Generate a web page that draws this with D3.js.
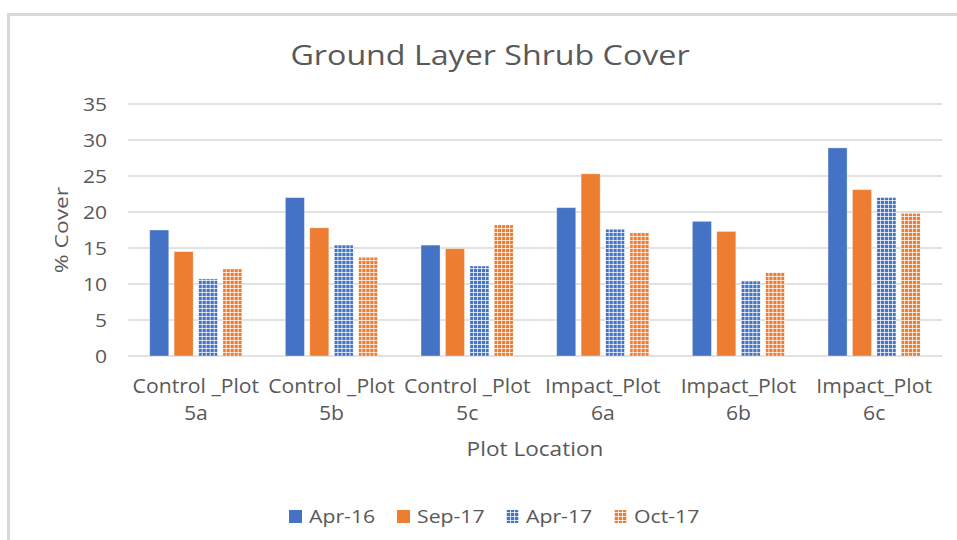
<!DOCTYPE html>
<html>
<head>
<meta charset="utf-8">
<script src="https://cdn.jsdelivr.net/npm/d3@7"></script>
<style>
  body { margin: 0; background: #fff; }
  text { font-family: "Open Sans", "Noto Sans", sans-serif; fill: #595959; }
</style>
</head>
<body>
<div id="chart"></div>
<script>

var width = 957,
    height = 540;

// data
var plots = ["Control _Plot|5a", "Control _Plot|5b", "Control _Plot|5c",
             "Impact_Plot|6a", "Impact_Plot|6b", "Impact_Plot|6c"];
var seriesNames = ["Apr-16", "Sep-17", "Apr-17", "Oct-17"];
var apr16 = [17.5, 22.0, 15.4, 20.6, 18.7, 28.9];
var sep17 = [14.5, 17.8, 14.9, 25.3, 17.3, 23.1];
var apr17 = [10.7, 15.4, 12.5, 17.6, 10.4, 22.0];
var oct17 = [12.1, 13.7, 18.2, 17.1, 11.6, 19.8];
var yTicks = [0, 5, 10, 15, 20, 25, 30, 35];

var seriesValues = [apr16, sep17, apr17, oct17];
var blue = "#4472C4", orange = "#ED7D31";
var seriesFill = ["solid-blue", "solid-orange", "pat-blue", "pat-orange"];

var svg = d3.select("#chart").append("svg")
    .attr("width", width)
    .attr("height", height);

var defs = svg.append("defs");
function makePattern(id, col) {
  var p = defs.append("pattern")
      .attr("id", id)
      .attr("patternUnits", "userSpaceOnUse")
      .attr("width", 4)
      .attr("height", 4);
  p.append("rect").attr("width", 4).attr("height", 4).attr("fill", col);
  p.append("rect").attr("x", 0).attr("y", 0).attr("width", 4).attr("height", 1).attr("fill", "#fff").attr("opacity", 0.75);
  p.append("rect").attr("x", 0).attr("y", 0).attr("width", 1).attr("height", 4).attr("fill", "#fff").attr("opacity", 0.75);
}
makePattern("pat-blue", blue);
makePattern("pat-orange", orange);

function fillFor(i) {
  if (i == 0) return blue;
  if (i == 1) return orange;
  return "url(#" + seriesFill[i] + ")";
}

// the reference text is a bit wider than Open Sans, stretch it sideways
function stretched(x, y, sx) {
  return "translate(" + x + "," + y + ") scale(" + sx + ",1)";
}

// outer frame
svg.append("path")
    .attr("d", "M8.5," + height + " V14.5 H" + width)
    .attr("fill", "none")
    .attr("stroke", "#D9D9D9")
    .attr("stroke-width", 3);

var margin = {left: 128, right: 15, top: 104, bottom: 184};

var x = d3.scaleBand()
    .domain(plots)
    .range([margin.left, width - margin.right])
    .paddingInner(0.32)
    .paddingOuter(0.16);

var xs = d3.scaleBand()
    .domain(d3.range(seriesNames.length))
    .range([0, x.bandwidth()])
    .paddingInner(0.22)
    .paddingOuter(0);

var y = d3.scaleLinear()
    .domain([0, 35])
    .range([height - margin.bottom, margin.top]);

// gridlines
svg.append("g")
    .selectAll("line")
    .data(yTicks)
    .enter().append("line")
    .attr("x1", margin.left)
    .attr("x2", width - margin.right)
    .attr("y1", function(d) { return y(d); })
    .attr("y2", function(d) { return y(d); })
    .attr("stroke", "#D9D9D9")
    .attr("stroke-width", 1.5);

// y axis labels
var yAxis = d3.axisLeft(y).tickValues(yTicks).tickSize(0);
var gy = svg.append("g")
    .attr("transform", "translate(" + margin.left + ",0)")
    .call(yAxis);
gy.select(".domain").remove();
gy.selectAll("text")
    .attr("x", null)
    .attr("dy", "0.35em")
    .attr("transform", stretched(-21, 0, 1.17))
    .style("font-size", "18px")
    .attr("fill", "#595959");

// bars
var groups = svg.append("g")
    .selectAll("g")
    .data(plots)
    .enter().append("g")
    .attr("transform", function(d) { return "translate(" + x(d) + ",0)"; });

groups.selectAll("rect")
    .data(function(d, i) {
      return seriesValues.map(function(s, k) { return {k: k, v: s[i]}; });
    })
    .enter().append("rect")
    .attr("x", function(d) { return xs(d.k); })
    .attr("y", function(d) { return y(d.v); })
    .attr("width", xs.bandwidth())
    .attr("height", function(d) { return y(0) - y(d.v); })
    .attr("fill", function(d) { return fillFor(d.k); })
    .attr("stroke", "#fff")
    .attr("stroke-opacity", 0.4)
    .attr("stroke-width", 0.8);

// category labels
var xAxis = d3.axisBottom(x).tickSize(0).tickFormat("");
var gx = svg.append("g")
    .attr("transform", "translate(0," + y(0) + ")")
    .call(xAxis);
gx.select(".domain").remove();
gx.selectAll(".tick").each(function(d) {
  var parts = d.split("|");
  var t = d3.select(this).append("text")
      .attr("text-anchor", "middle")
      .attr("transform", "scale(1.06,1)")
      .style("font-size", "20px");
  t.append("tspan").attr("x", 0).attr("y", 37).text(parts[0]);
  t.append("tspan").attr("x", 0).attr("y", 64).text(parts[1]);
});

// title
svg.append("text")
    .attr("transform", stretched(490, 65, 1.15))
    .attr("text-anchor", "middle")
    .style("font-size", "28px")
    .text("Ground Layer Shrub Cover");

// axis titles
svg.append("text")
    .attr("transform", stretched(535, 456, 1.13))
    .attr("text-anchor", "middle")
    .style("font-size", "20px")
    .text("Plot Location");

svg.append("text")
    .attr("transform", "translate(68,230) rotate(-90) scale(1.2,1)")
    .attr("text-anchor", "middle")
    .style("font-size", "19px")
    .text("% Cover");

// legend
var legendX = [289, 397, 506, 614];
var legend = svg.append("g")
    .selectAll("g")
    .data(seriesNames)
    .enter().append("g")
    .attr("transform", function(d, i) { return "translate(" + legendX[i] + ",516)"; });

legend.append("rect")
    .attr("x", 0)
    .attr("y", -6)
    .attr("width", 13)
    .attr("height", 13)
    .attr("fill", function(d, i) { return fillFor(i); });

legend.append("text")
    .attr("transform", stretched(20, 7, 1.18))
    .style("font-size", "18px")
    .text(function(d) { return d; });

</script>
</body>
</html>
